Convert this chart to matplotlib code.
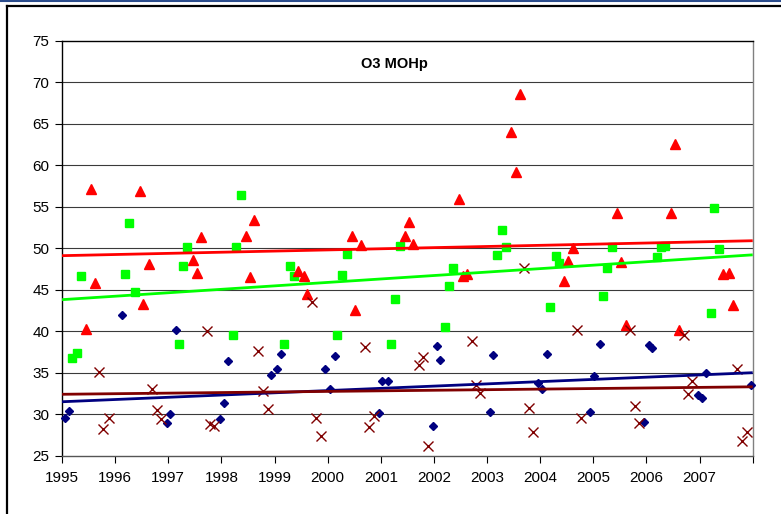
import numpy as np
import matplotlib
matplotlib.use("Agg")
import matplotlib.pyplot as plt
from matplotlib.lines import Line2D

plt.rcParams['font.family'] = ['Liberation Sans', 'DejaVu Sans']

# winter (blue diamonds)
blue_year = [1995.05, 1995.13, 1996.13, 1996.97, 1997.04, 1997.14, 1997.97, 1998.05, 1998.12,
             1998.94, 1999.04, 1999.12, 1999.95, 2000.04, 2000.13, 2000.96, 2001.03, 2001.13,
             2001.98, 2002.05, 2002.12, 2003.05, 2003.12, 2003.95, 2004.04, 2004.12, 2004.94,
             2005.02, 2005.13, 2005.96, 2006.05, 2006.11, 2006.97, 2007.04, 2007.12, 2007.96]
blue_o3 = [29.6, 30.4, 42.0, 29.0, 30.0, 40.2, 29.4, 31.4, 36.4,
           34.7, 35.4, 37.2, 35.4, 33.0, 37.0, 30.2, 34.0, 34.0,
           28.6, 38.2, 36.5, 30.3, 37.1, 33.8, 33.0, 37.3, 30.3,
           34.6, 38.5, 29.1, 38.3, 38.0, 32.3, 32.0, 35.0, 33.5]

# spring (green squares)
green_year = [1995.19, 1995.28, 1995.36, 1996.19, 1996.26, 1996.37, 1997.20, 1997.28, 1997.36,
              1998.21, 1998.27, 1998.36, 1999.18, 1999.29, 1999.36, 2000.18, 2000.27, 2000.36,
              2001.19, 2001.26, 2001.36, 2002.21, 2002.28, 2002.36, 2003.18, 2003.28, 2003.36,
              2004.18, 2004.29, 2004.36, 2005.18, 2005.26, 2005.36, 2006.20, 2006.27, 2006.35,
              2007.21, 2007.28, 2007.36]
green_o3 = [36.8, 37.4, 46.6, 46.9, 53.0, 44.7, 38.5, 47.9, 50.2,
            39.5, 50.2, 56.4, 38.4, 47.9, 46.6, 39.5, 46.8, 49.3,
            38.5, 43.9, 50.3, 40.5, 45.4, 47.6, 49.2, 52.2, 50.2,
            42.9, 49.1, 48.2, 44.2, 47.6, 50.2, 48.9, 50.1, 50.3,
            42.2, 54.8, 49.9]

# summer (red triangles)
red_year = [1995.45, 1995.55, 1995.62, 1996.47, 1996.53, 1996.64, 1997.47, 1997.55, 1997.62,
            1998.47, 1998.54, 1998.61, 1999.44, 1999.55, 1999.62, 2000.45, 2000.52, 2000.63,
            2001.46, 2001.54, 2001.61, 2002.47, 2002.54, 2002.62, 2003.45, 2003.55, 2003.62,
            2004.45, 2004.52, 2004.62, 2005.45, 2005.52, 2005.62, 2006.46, 2006.54, 2006.61,
            2007.44, 2007.55, 2007.63]
red_o3 = [40.3, 57.1, 45.8, 56.9, 43.3, 48.1, 48.6, 47.0, 51.3,
          51.5, 46.5, 53.4, 47.3, 46.7, 44.5, 51.5, 42.5, 50.4,
          51.5, 53.1, 50.5, 55.9, 46.7, 46.9, 64.0, 59.2, 68.6,
          46.1, 48.5, 50.0, 54.2, 48.3, 40.8, 54.2, 62.6, 40.1,
          46.9, 47.0, 43.2]

# autumn (dark red crosses)
cross_year = [1995.70, 1995.78, 1995.88, 1996.70, 1996.79, 1996.87, 1997.72, 1997.78, 1997.87,
              1998.69, 1998.78, 1998.87, 1999.70, 1999.79, 1999.87, 2000.70, 2000.78, 2000.87,
              2001.72, 2001.80, 2001.88, 2002.72, 2002.79, 2002.87, 2003.69, 2003.79, 2003.87,
              2004.70, 2004.76, 2005.70, 2005.79, 2005.86, 2006.71, 2006.79, 2006.86,
              2007.70, 2007.80, 2007.89]
cross_o3 = [35.1, 28.2, 29.6, 33.0, 30.5, 29.4, 40.0, 28.8, 28.6,
            37.6, 32.8, 30.6, 43.5, 29.6, 27.4, 38.1, 28.4, 29.8,
            35.9, 36.9, 26.2, 38.8, 33.5, 32.5, 47.6, 30.7, 27.8,
            40.1, 29.6, 40.1, 31.0, 28.9, 39.6, 32.4, 34.0,
            35.4, 26.8, 27.9]

# trend lines: value at start and end of the axis
trend_span = [1995.0, 2008.0]
trend_red = [49.1, 50.9]
trend_green = [43.8, 49.2]
trend_blue = [31.5, 35.0]
trend_cross = [32.4, 33.3]

years = list(range(1995, 2008))

fig = plt.figure(figsize=(7.81, 5.14), dpi=100)
ax = fig.add_axes([62 / 781, 1 - 455.7 / 514, 690.7 / 781, 415 / 514])

series = [
    (blue_year, blue_o3, "D", "#000080", dict(ms=4.3)),
    (green_year, green_o3, "s", "#00FF00", dict(ms=5.2)),
    (red_year, red_o3, "^", "#FF0000", dict(ms=6.5)),
    (cross_year, cross_o3, "x", "#800000", dict(ms=7.5, mew=1.0)),
]
for xs, ys, mk, col, kw in series:
    ax.plot(xs, ys, mk, color=col, mec=col, mfc=col, zorder=3, clip_on=False, **kw)

# trend lines drawn over the markers
for tr, col in [(trend_red, "#FF0000"), (trend_green, "#00FF00"),
                (trend_blue, "#000080"), (trend_cross, "#800000")]:
    ax.plot(trend_span, tr, "-", color=col, lw=2.0, zorder=4, solid_capstyle="butt")

ax.set_xlim(1995, 2008)
ax.set_ylim(25, 75)
ax.set_yticks(range(25, 80, 5))
ax.set_xticks(years + [2008])
ax.set_xticklabels([str(y) for y in years] + [""])
ax.tick_params(direction="out", length=5, width=0.8, labelsize=11, colors="black")
ax.tick_params(axis="y", pad=4)
ax.tick_params(axis="x", pad=6)
for v in range(30, 75, 5):
    ax.axhline(v, color="#3a3a3a", lw=0.8, zorder=1)
ax.spines["left"].set_color("black")
ax.spines["bottom"].set_color("#555555")
ax.spines["top"].set_color("black")
ax.spines["right"].set_color("#808080")
for s in ax.spines.values():
    s.set_linewidth(1.0)

ax.text(0.482, 0.943, "O3 MOHp", transform=ax.transAxes, ha="center", va="center",
        fontsize=10.5, fontweight="bold")

# outer frame of the excel chart object, cut at right and bottom
fig.add_artist(Line2D([0, 1], [1 - 0.8 / 514, 1 - 0.8 / 514], color="#2b4c8c", lw=1.5))
fig.add_artist(Line2D([7.5 / 781, 1], [1 - 5.5 / 514, 1 - 5.5 / 514], color="black", lw=1.6))
fig.add_artist(Line2D([7.5 / 781, 7.5 / 781], [0, 1 - 5.5 / 514], color="black", lw=1.6))

fig.savefig("out.png", dpi=100)
